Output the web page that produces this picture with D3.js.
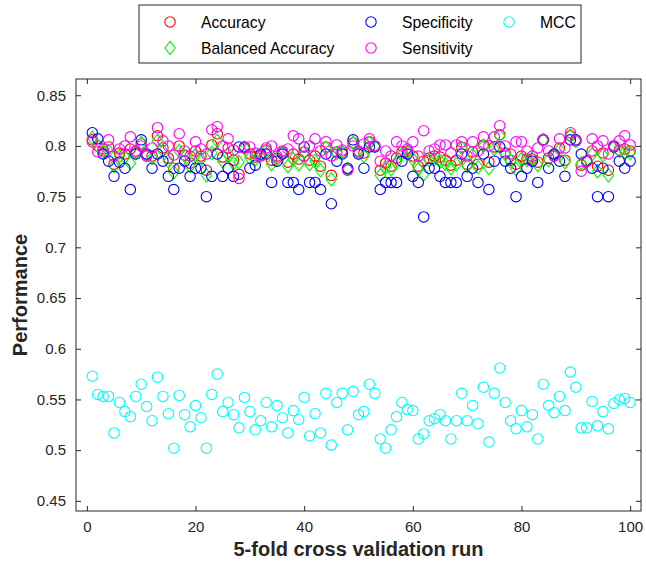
<!DOCTYPE html>
<html>
<head>
<meta charset="utf-8">
<script src="https://cdn.jsdelivr.net/npm/d3@7"></script>
<style>
  body { margin: 0; background: #fff; }
  text { font-family: "Liberation Sans", Arial, sans-serif; }
</style>
</head>
<body>
<div id="chart"></div>
<script>
// runs 1..100
const runs = d3.range(1, 101);

const accuracy = [
  .806,.800,.795,.799,.782,.793,.792,.797,.794,.802,.791,.790,.810,.798,.788,.778,.800,.791,.783,.795,
  .790,.776,.801,.812,.789,.798,.786,.772,.798,.792,.789,.791,.796,.786,.788,.794,.784,.792,.787,.794,
  .786,.790,.780,.799,.771,.794,.794,.777,.803,.794,.793,.804,.800,.776,.783,.780,.788,.794,.795,.790,
  .780,.785,.788,.790,.789,.786,.781,.786,.799,.782,.794,.782,.801,.784,.799,.811,.793,.786,.782,.790,
  .787,.787,.784,.806,.788,.791,.798,.786,.810,.805,.781,.785,.795,.780,.793,.776,.800,.796,.797,.795];

const balancedAccuracy = [
  .808,.800,.794,.795,.780,.790,.789,.783,.793,.803,.791,.788,.805,.795,.785,.774,.795,.790,.780,.791,
  .787,.771,.793,.805,.785,.792,.783,.784,.798,.788,.787,.791,.795,.782,.787,.793,.780,.787,.782,.794,
  .782,.785,.776,.798,.767,.793,.794,.777,.803,.793,.790,.803,.800,.771,.779,.777,.784,.792,.794,.787,
  .777,.772,.786,.787,.785,.782,.778,.782,.798,.780,.791,.779,.800,.778,.797,.810,.792,.785,.777,.787,
  .786,.787,.781,.806,.786,.791,.796,.784,.810,.805,.783,.785,.792,.775,.791,.771,.799,.795,.794,.793];

const specificity = [
  .813,.807,.792,.785,.770,.784,.778,.757,.792,.806,.792,.778,.792,.785,.770,.757,.778,.785,.770,.778,
  .778,.750,.770,.792,.770,.778,.770,.799,.799,.778,.781,.792,.792,.764,.785,.792,.764,.764,.757,.799,
  .764,.764,.757,.792,.743,.785,.792,.778,.806,.792,.778,.799,.799,.757,.764,.764,.764,.785,.792,.770,
  .764,.730,.778,.778,.770,.764,.764,.764,.792,.770,.778,.764,.792,.757,.785,.799,.785,.778,.750,.770,
  .778,.785,.764,.806,.778,.792,.785,.770,.806,.806,.792,.785,.778,.750,.778,.750,.799,.785,.778,.785];

const sensitivity = [
  .804,.794,.797,.806,.790,.797,.800,.809,.795,.800,.790,.798,.818,.805,.800,.791,.812,.795,.790,.804,
  .797,.792,.816,.819,.800,.807,.796,.768,.798,.799,.793,.790,.798,.800,.790,.795,.797,.810,.807,.790,
  .800,.807,.795,.804,.790,.801,.796,.776,.800,.795,.802,.807,.800,.785,.795,.790,.804,.800,.797,.804,
  .790,.815,.795,.797,.801,.801,.793,.801,.804,.790,.804,.795,.809,.800,.809,.820,.800,.792,.804,.804,
  .795,.790,.798,.806,.795,.790,.807,.798,.813,.805,.775,.785,.807,.800,.805,.792,.800,.805,.810,.801];

const mcc = [
  .573,.555,.553,.553,.517,.547,.538,.533,.553,.565,.543,.529,.572,.553,.536,.502,.554,.535,.523,.544,
  .532,.502,.555,.575,.538,.547,.535,.522,.552,.538,.520,.529,.547,.523,.544,.532,.517,.539,.530,.552,
  .514,.536,.517,.556,.505,.547,.556,.520,.558,.535,.538,.565,.556,.511,.502,.520,.533,.547,.540,.539,
  .511,.516,.529,.531,.535,.529,.511,.529,.556,.529,.544,.526,.562,.508,.556,.581,.547,.529,.521,.539,
  .523,.535,.511,.565,.544,.537,.553,.539,.577,.562,.522,.522,.548,.524,.538,.521,.546,.550,.551,.547];

const xTicks = [0, 20, 40, 60, 80, 100];
const yTicks = [0.45, 0.5, 0.55, 0.6, 0.65, 0.7, 0.75, 0.8, 0.85];

const series = [
  { name: "Accuracy", values: accuracy, color: "#ff0000", shape: "circle" },
  { name: "Balanced Accuracy", values: balancedAccuracy, color: "#00ff00", shape: "diamond" },
  { name: "Specificity", values: specificity, color: "#0000ff", shape: "circle" },
  { name: "Sensitivity", values: sensitivity, color: "#ff00ff", shape: "circle" },
  { name: "MCC", values: mcc, color: "#00ffff", shape: "circle" }
];

const W = 646, H = 564;
const box = { left: 76, right: 641, top: 79, bottom: 511 };
const axisColor = "#262626";

const svg = d3.select("#chart").append("svg")
  .attr("width", W).attr("height", H);

const x = d3.scaleLinear().domain([-2, 102]).range([box.left, box.right]);
const y = d3.scaleLinear().domain([0.44, 0.866]).range([box.bottom, box.top]);

const fmt = d => String(+d.toFixed(2));

// axes, ticks pointing inwards
const gx = svg.append("g")
  .attr("transform", "translate(0," + box.bottom + ")")
  .call(d3.axisBottom(x).tickValues(xTicks).tickSize(-5).tickPadding(10).tickFormat(fmt));
const gxTop = svg.append("g")
  .attr("transform", "translate(0," + box.top + ")")
  .call(d3.axisTop(x).tickValues(xTicks).tickSize(-5).tickFormat(""));
const gy = svg.append("g")
  .attr("transform", "translate(" + box.left + ",0)")
  .call(d3.axisLeft(y).tickValues(yTicks).tickSize(-5).tickPadding(10).tickFormat(fmt));
const gyRight = svg.append("g")
  .attr("transform", "translate(" + box.right + ",0)")
  .call(d3.axisRight(y).tickValues(yTicks).tickSize(-5).tickFormat(""));

[gx, gxTop, gy, gyRight].forEach(g => {
  g.select(".domain").remove();
  g.selectAll(".tick line").attr("stroke", axisColor);
  g.selectAll(".tick text").attr("fill", axisColor)
    .style("font-size", "15px").style("font-family", "'Liberation Sans', Arial, sans-serif");
});

svg.append("rect")
  .attr("x", box.left).attr("y", box.top)
  .attr("width", box.right - box.left).attr("height", box.bottom - box.top)
  .attr("fill", "none").attr("stroke", axisColor).attr("stroke-width", 1);

// markers
const diamond = (cx, cy) => {
  const w = 5.2, h = 6.7;
  return "M" + cx + "," + (cy - h) + "L" + (cx + w) + "," + cy + "L" + cx + "," + (cy + h) + "L" + (cx - w) + "," + cy + "Z";
};

series.forEach(s => {
  const g = svg.append("g");
  if (s.shape === "circle") {
    g.selectAll("circle").data(s.values).enter().append("circle")
      .attr("cx", (d, i) => x(runs[i]))
      .attr("cy", d => y(d))
      .attr("r", 5.2)
      .attr("fill", "none").attr("stroke", s.color).attr("stroke-width", 1.1);
  } else {
    g.selectAll("path").data(s.values).enter().append("path")
      .attr("d", (d, i) => diamond(x(runs[i]), y(d)))
      .attr("fill", "none").attr("stroke", s.color).attr("stroke-width", 1.1);
  }
});

// axis labels
svg.append("text")
  .attr("x", (box.left + box.right) / 2).attr("y", 556)
  .attr("text-anchor", "middle")
  .style("font-size", "20px").style("font-weight", "bold").attr("fill", axisColor)
  .text("5-fold cross validation run");

svg.append("text")
  .attr("transform", "translate(27," + ((box.top + box.bottom) / 2) + ") rotate(-90)")
  .attr("text-anchor", "middle")
  .style("font-size", "20px").style("font-weight", "bold").attr("fill", axisColor)
  .text("Performance");

// legend
const legend = svg.append("g");
legend.append("rect")
  .attr("x", 139).attr("y", 5).attr("width", 442).attr("height", 58)
  .attr("fill", "#fff").attr("stroke", axisColor).attr("stroke-width", 1);

const legendPos = [
  { mx: 170, ty: 22 }, { mx: 170, ty: 48 },
  { mx: 371, ty: 22 }, { mx: 371, ty: 48 },
  { mx: 509, ty: 22 }
];

series.forEach((s, i) => {
  const p = legendPos[i];
  if (s.shape === "circle") {
    legend.append("circle").attr("cx", p.mx).attr("cy", p.ty).attr("r", 5.2)
      .attr("fill", "none").attr("stroke", s.color).attr("stroke-width", 1.1);
  } else {
    legend.append("path").attr("d", diamond(p.mx, p.ty))
      .attr("fill", "none").attr("stroke", s.color).attr("stroke-width", 1.1);
  }
  legend.append("text")
    .attr("x", p.mx + 31).attr("y", p.ty + 5.5)
    .style("font-size", "15.7px").attr("fill", "#000")
    .text(s.name);
});
</script>
</body>
</html>
